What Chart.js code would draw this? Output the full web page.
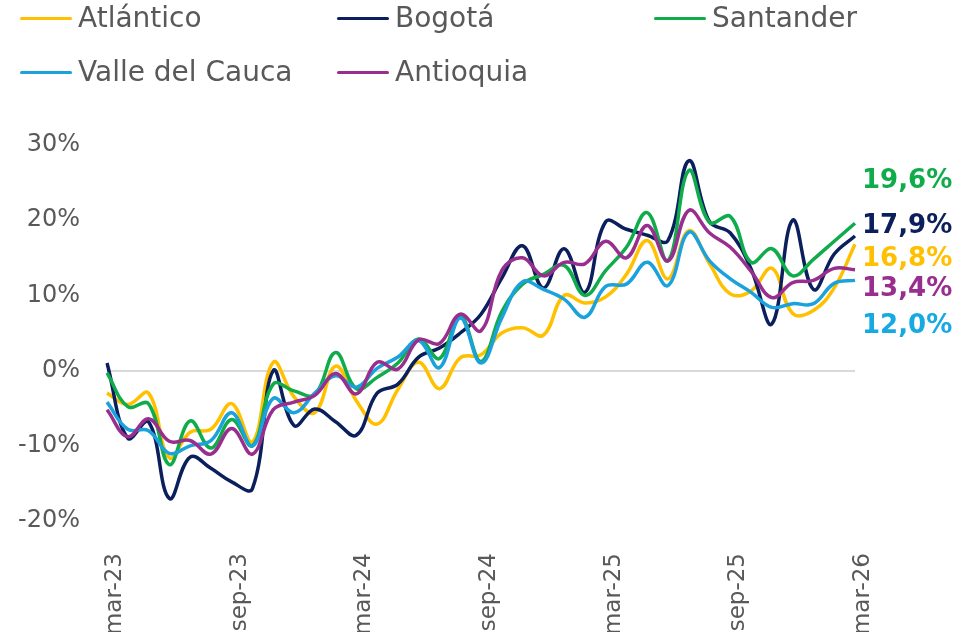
<!DOCTYPE html>
<html>
<head>
<meta charset="utf-8">
<script src="https://cdn.jsdelivr.net/npm/chart.js@4.4.1/dist/chart.umd.min.js"></script>
<style>
  body { margin: 0; background: #fff; }
  #wrap { position: relative; width: 974px; height: 632px; }
  #legend {
    position: absolute; left: 20px; top: 0;
    display: grid; grid-template-columns: 317px 317px 317px;
    grid-auto-rows: 36px; row-gap: 18px;
    font-family: "DejaVu Sans", sans-serif; font-size: 28px; color: #595959;
  }
  .item { line-height: 36px; white-space: nowrap; }
  .swatch { display: inline-block; width: 52px; height: 3px; border-radius: 2px; vertical-align: middle; margin-right: 6px; position: relative; top: -1px; }
</style>
</head>
<body>
<div id="wrap">
  <canvas id="chart" width="974" height="632"></canvas>
  <div id="legend"></div>
</div>
<script>
// monthly series, mar-23 .. mar-26
const months = ['mar-23','abr-23','may-23','jun-23','jul-23','ago-23','sep-23','oct-23','nov-23','dic-23',
  'ene-24','feb-24','mar-24','abr-24','may-24','jun-24','jul-24','ago-24','sep-24','oct-24','nov-24','dic-24',
  'ene-25','feb-25','mar-25','abr-25','may-25','jun-25','jul-25','ago-25','sep-25','oct-25','nov-25','dic-25',
  'ene-26','feb-26','mar-26'];

const atlantico = [-3, -4.5, -3.0, -11.6, -8.2, -7.8, -4.4, -9.5, 1.1, -3.5, -5.6, 0.6, -4.0, -7.1, -2.5, 1.1, -2.4, 1.7, 2.1,
  5.0, 5.7, 4.7, 10.0, 9.0, 9.8, 12.8, 17.3, 12.2, 18.6, 14.2, 10.2, 10.6, 13.6, 7.6, 8.0, 11.0, 16.8];
const bogota = [1.0, -9.0, -6.8, -17.0, -11.5, -13.0, -14.8, -15.7, 0.0, -7.3, -5.1, -6.8, -8.6, -3.0, -1.8, 1.8, 3.0, 5.0, 7.5,
  12.3, 16.6, 11.0, 16.2, 10.4, 19.8, 18.8, 18.0, 17.3, 27.9, 19.8, 18.3, 13.5, 6.2, 20.0, 10.8, 15.5, 17.9];
const santander = [-0.3, -4.8, -4.4, -12.5, -6.7, -10.3, -6.5, -10.0, -1.8, -2.7, -3.2, 2.4, -2.4, -0.9, 1.0, 4.2, 1.6, 7.3, 1.2,
  7.8, 11.5, 12.8, 14.0, 10.0, 13.3, 16.4, 21.0, 14.6, 26.6, 19.7, 20.5, 14.4, 16.2, 12.6, 14.8, 17.2, 19.6];
const valle = [-4.2, -7.8, -8.0, -11.0, -10.0, -9.3, -5.6, -10.0, -3.7, -5.6, -3.0, -0.7, -2.2, 0.3, 1.8, 4.0, 0.4, 7.0, 1.0,
  7.0, 11.8, 10.8, 9.5, 7.1, 11.2, 11.5, 14.4, 11.3, 18.4, 14.6, 12.2, 10.4, 8.4, 8.9, 8.9, 11.6, 12.0];
const antioquia = [-5.2, -8.8, -6.4, -9.4, -9.3, -11.1, -7.7, -11.1, -5.2, -4.2, -3.3, -0.4, -3.1, 1.1, 0.2, 4.1, 3.6, 7.5, 5.3,
  13.3, 15.0, 12.6, 14.4, 14.2, 17.2, 15.0, 19.3, 14.6, 21.3, 18.3, 16.4, 13.2, 9.7, 11.7, 12.0, 13.6, 13.4];

const names = ['Atlántico', 'Bogotá', 'Santander', 'Valle del Cauca', 'Antioquia'];
const series = [atlantico, bogota, santander, valle, antioquia];
const colors = ['#FFC000', '#0A1F5C', '#10AC4C', '#1BA1DC', '#982F8E'];
const labelColors = ['#FFC000', '#0A1F5C', '#10AC4C', '#17A9E1', '#982F8E'];
// vertical nudge (px) of end labels so they don't overlap
const labelShift = [15, -10, -42, 46, 19];

const FONT = '"DejaVu Sans", sans-serif';
const GREY = '#595959';

// html legend, same order as the source
const legend = document.getElementById('legend');
names.forEach((n, i) => {
  const div = document.createElement('div');
  div.className = 'item';
  div.innerHTML = `<span class="swatch" style="background:${colors[i]}"></span>${n}`;
  legend.appendChild(div);
});

const endLabels = {
  id: 'endLabels',
  afterDatasetsDraw(chart) {
    const ctx = chart.ctx;
    ctx.save();
    ctx.font = `bold 26px ${FONT}`;
    ctx.textAlign = 'left';
    ctx.textBaseline = 'middle';
    chart.data.datasets.forEach((ds, i) => {
      const meta = chart.getDatasetMeta(i);
      const pt = meta.data[meta.data.length - 1];
      const v = ds.data[ds.data.length - 1];
      ctx.fillStyle = labelColors[i];
      ctx.fillText(v.toFixed(1).replace('.', ',') + '%', chart.chartArea.right + 7, pt.y + labelShift[i]);
    });
    ctx.restore();
  }
};

new Chart(document.getElementById('chart'), {
  type: 'line',
  data: {
    labels: months,
    datasets: series.map((d, i) => ({
      label: names[i],
      data: d,
      borderColor: colors[i],
      backgroundColor: colors[i],
      borderWidth: 3.5,
      pointRadius: 0,
      tension: 0.4,
      fill: false,
      order: series.length - i
    }))
  },
  options: {
    responsive: false,
    animation: false,
    layout: { padding: { top: 145, right: 119, left: 0, bottom: 0 } },
    plugins: { legend: { display: false }, tooltip: { enabled: false } },
    scales: {
      x: {
        grid: { display: false },
        border: { display: false },
        afterFit: s => { s.height = 111; },
        ticks: {
          autoSkip: false,
          maxRotation: 90,
          minRotation: 90,
          padding: 24,
          labelOffset: 8,
          color: GREY,
          font: { family: FONT, size: 23 },
          callback: function (val, idx) { return idx % 6 === 0 ? this.getLabelForValue(val) : ''; }
        }
      },
      y: {
        min: -20,
        max: 30,
        border: { display: false },
        afterFit: s => { s.width = 107; },
        grid: {
          drawTicks: false,
          color: c => (c.tick && c.tick.value === 0 ? '#D9D9D9' : 'rgba(0,0,0,0)'),
          lineWidth: 2
        },
        ticks: {
          stepSize: 10,
          padding: 27,
          color: GREY,
          font: { family: FONT, size: 24 },
          callback: v => v + '%'
        }
      }
    }
  },
  plugins: [endLabels]
});
</script>
</body>
</html>
